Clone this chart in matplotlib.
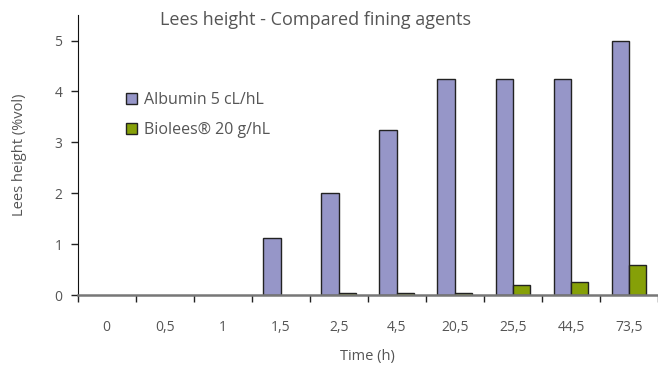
import numpy as np
import matplotlib.pyplot as plt
from matplotlib.patches import Patch

times = ['0', '0,5', '1', '1,5', '2,5', '4,5', '20,5', '25,5', '44,5', '73,5']
albumin = [0, 0, 0, 1.12, 2.0, 3.25, 4.25, 4.25, 4.25, 5.0]
biolees = [0, 0, 0, 0, 0.05, 0.05, 0.05, 0.2, 0.25, 0.6]

plt.rcParams['font.family'] = ['Open Sans', 'DejaVu Sans']
grey = '#555555'
blue = '#9696c8'
green = '#86a008'

fig = plt.figure(figsize=(6.58, 3.67), dpi=100)
ax = fig.add_axes([0.118, 0.196, 0.882, 0.763])

x = np.arange(len(times))
w = 0.3
b1 = ax.bar(x - w / 2, albumin, w, color=blue, edgecolor='#222222', linewidth=1, zorder=3)
b2 = ax.bar(x + w / 2, biolees, w, color=green, edgecolor='#222222', linewidth=1, zorder=3)
# empty bars are not drawn in the original
for p in list(b1) + list(b2):
    if p.get_height() == 0:
        p.set_visible(False)

ax.set_xlim(-0.5, 9.5)
ax.set_ylim(0, 5.5)
ax.set_yticks(range(6))
ax.set_xticks(x)
ax.set_xticklabels(times)
ax.set_xticks(np.arange(-0.5, 9.6, 1), minor=True)
ax.tick_params(axis='x', which='major', length=0, pad=18, labelcolor=grey, labelsize=10)
ax.tick_params(axis='x', which='minor', length=5, width=1, color='#222222', direction='out')
ax.tick_params(axis='y', length=5, width=1, color='#222222', labelcolor=grey, labelsize=10, pad=6)

for s in ['top', 'right']:
    ax.spines[s].set_visible(False)
ax.spines['left'].set_color('#111111')
ax.spines['bottom'].set_color('#777777')
ax.spines['bottom'].set_linewidth(1.8)
ax.spines['bottom'].set_zorder(4)

ax.set_xlabel('Time (h)', color=grey, fontsize=10.5, labelpad=10)
ax.set_ylabel('Lees height (%vol)', color=grey, fontsize=10.5, labelpad=20)
fig.text(0.479, 0.945, 'Lees height - Compared fining agents', ha='center', va='center',
         color=grey, fontsize=13)

handles = [Patch(facecolor=blue, edgecolor='#222222', linewidth=1),
           Patch(facecolor=green, edgecolor='#222222', linewidth=1)]
ax.legend(handles, ['Albumin 5 cL/hL', 'Biolees® 20 g/hL'],
          loc='upper left', bbox_to_anchor=(0.058, 0.775), frameon=False,
          fontsize=11.5, handlelength=0.7, handleheight=0.7,
          handletextpad=0.45, labelspacing=0.85, labelcolor=grey)

fig.savefig('out.png', dpi=100)
